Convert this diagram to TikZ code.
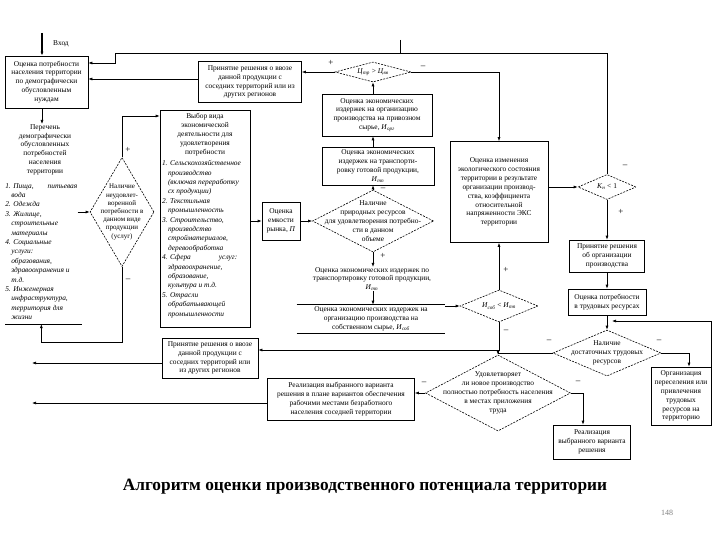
\documentclass[tikz,border=0pt]{standalone}
\usepackage{fontspec}
\setmainfont{Liberation Serif}
\usetikzlibrary{shapes.geometric,arrows.meta}
\newcommand{\boxfont}{\fontsize{7.4}{8.9}\selectfont}
\newcommand{\listfont}{\fontsize{7.4}{9.4}\selectfont}
\newcommand{\cost}[2]{\textit{#1}\textsubscript{\textit{#2}}}

\begin{document}
\begin{tikzpicture}[x=1pt,y=-1pt,line width=0.6pt,>={Latex[length=4pt,width=3pt]},
  box/.style={draw,align=center,font=\boxfont,inner sep=1pt},
  plain/.style={align=center,font=\boxfont,inner sep=0pt},
  items/.style={align=left,font=\listfont\itshape,inner sep=0pt},
  dia/.style={draw,diamond,dash pattern=on 2pt off 1.2pt,inner sep=0pt},
  sign/.style={font=\fontsize{9}{9}\selectfont,inner sep=0pt}]

\useasboundingbox (0,0) rectangle (720,540);

	% left column
	\node[box,minimum width=83,minimum height=52] (need) at (46.5,82) {Оценка потребности\\населения территории\\по демографически\\обусловленным\\нуждам};
	\node[plain] (listhead) [anchor=north] at (45,124) {Перечень\\демографически\\обусловленных\\потребностей\\населения\\территории};
	\node[items] (listbody) [anchor=north west] at (5,183) {1. Пища,\hspace{14pt}питьевая\\\hspace*{6pt}вода\\2. Одежда\\3. Жилище,\\\hspace*{6pt}строительные\\\hspace*{6pt}материалы\\4. Социальные\\\hspace*{6pt}услуги:\\\hspace*{6pt}образования,\\\hspace*{6pt}здравоохранения и\\\hspace*{6pt}т.д.\\5. Инженерная\\\hspace*{6pt}инфраструктура,\\\hspace*{6pt}территория для\\\hspace*{6pt}жизни};
	\coordinate (listend) at ([yshift=-4pt]listbody.south);
	\draw ([yshift=-4pt]listbody.south west) -- ([yshift=-4pt,xshift=4pt]listbody.south east);

	\node[dia,minimum width=64,minimum height=109] (G) at (122,212) {};
	\node[plain,font=\fontsize{7}{8.2}\selectfont] (Gtext) at (G.center) {Наличие\\неудовлет-\\воренной\\потребности в\\данном виде\\продукции\\(услуг)};

	\node[draw,minimum width=90,minimum height=217] (F) [anchor=north] at (205,110) {};
	\node[plain] (Fhead) [anchor=north] at ([yshift=-3pt]F.north) {Выбор вида\\экономической\\деятельности для\\удовлетворения\\потребности};
	\node[items] (Fbody) [anchor=north west] at ([xshift=2pt,yshift=-4pt]Fhead.south -| F.west) {1. Сельскохозяйственное\\\hspace*{6pt}производство\\\hspace*{6pt}(включая переработку\\\hspace*{6pt}сх продукции)\\2. Текстильная\\\hspace*{6pt}промышленность\\3. Строительство,\\\hspace*{6pt}производство\\\hspace*{6pt}стройматериалов,\\\hspace*{6pt}деревообработка\\4. Сфера\hspace{28pt}услуг:\\\hspace*{6pt}здравоохранение,\\\hspace*{6pt}образование,\\\hspace*{6pt}культура и т.д.\\5. Отрасли\\\hspace*{6pt}обрабатывающей\\\hspace*{6pt}промышленности};

	\node[box,minimum width=38,minimum height=38] (E) at (281,221) {Оценка\\емкости\\рынка, \textit{П}};
	\node[box,minimum width=103,minimum height=41] (imp1) at (250,82) {Принятие решения о ввозе\\данной продукции с\\соседних территорий или из\\других регионов};
	\node[box,minimum width=96,minimum height=40] (imp2) at (210,358) {Принятие решения о ввозе\\данной продукции с\\соседних территорий или\\из других регионов};

	% middle column
	\node[dia,minimum width=76,minimum height=20] (D1) at (373,72) {};
	\node[plain] (D1text) at (D1.center) {\cost{Ц}{тр} > \cost{Ц}{вв}};
	\node[box,minimum width=110,minimum height=42] (C1) at (377,115) {Оценка экономических\\издержек на организацию\\производства на привозном\\сырье, \cost{И}{орг}};
	\node[box,minimum width=112,minimum height=38] (C2) at (378,166) {Оценка экономических\\издержек на транспорти-\\ровку готовой продукции,\\\cost{И}{тп}};
	\node[dia,minimum width=121,minimum height=62] (D2) at (373,221) {};
	\node[plain] (D2text) at (D2.center) {Наличие\\природных ресурсов\\для удовлетворения потребно-\\сти в данном\\объеме};
	\node[plain] (C3) at (372,279) {Оценка экономических издержек по\\транспортировку готовой продукции,\\\cost{И}{тп}};
	\node[plain,minimum width=148,minimum height=28] (C4) at (371,319) {Оценка экономических издержек на\\организацию производства на\\собственном сырье, \cost{И}{соб}};
	\draw (C4.north west) -- (C4.north east);
	\draw (C4.south west) -- (C4.south east);

	% right part
	\node[box,minimum width=98,minimum height=101] (M) at (499,192) {Оценка изменения\\экологического состояния\\территории в результате\\организации производ-\\ства, коэффициента\\относительной\\напряженности ЭКС\\территории};
	\node[dia,minimum width=58,minimum height=25] (N) at (607,187) {};
	\node[plain] (Ntext) at (N.center) {\cost{К}{н} < 1};
	\node[dia,minimum width=78,minimum height=32] (K) at (499,306) {};
	\node[plain] (Ktext) at (K.center) {\cost{И}{соб} < \cost{И}{тп}};
	\node[box,minimum width=75,minimum height=32] (P) at (607,256) {Принятие решения\\об организации\\производства};
	\node[box,minimum width=78,minimum height=26] (Q) at (607,302) {Оценка потребности\\в трудовых ресурсах};
	\node[dia,minimum width=108,minimum height=46] (R) at (607,353) {};
	\node[plain] (Rtext) at (R.center) {Наличие\\достаточных трудовых\\ресурсов};
	\node[box,minimum width=60,minimum height=58] (S) at (681,396) {Организация\\переселения или\\привлечения\\трудовых\\ресурсов на\\территорию};
	\node[dia,minimum width=145,minimum height=76] (U) at (498,393) {};
	\node[plain] (Utext) at (U.center) {Удовлетворяет\\ли новое производство\\полностью потребность населения\\в местах приложения\\труда};
	\node[box,minimum width=77,minimum height=34] (T) at (592,442) {Реализация\\выбранного варианта\\решения};
	\node[box,minimum width=147,minimum height=42] (V) at (341,399) {Реализация выбранного варианта\\решения в плане вариантов обеспечения\\рабочими местами безработного\\населения соседней территории};

	% connectors
	\coordinate (in) at (42,33);
	\draw[->,line width=1.8pt] (in) -- (in |- need.north);
	\node[plain] (inlabel) at (61,44) {Вход};
	\draw[->] (need.south -| in) -- (listhead.north -| in);
	\coordinate (topL) at (115,53);
	\coordinate (tick) at (400,40);
	\draw (tick) -- (tick |- topL);
	\draw[->] (N.north) |- (topL) |- ([yshift=19pt]need.east);
	\draw[->] ([yshift=3pt]imp1.west) -- ([yshift=3pt]need.east);
	\draw[->] (listbody.east |- G.west) -- (G.west);
	\draw[->] (G.north) |- ([yshift=-6pt]F.north west);
	\draw[->] (G.south) -- ++(0,75) -| (listend);
	\draw[->] (F.east |- E.west) -- (E.west);
	\draw[->] (E.east) -- (D2.west);
	\draw[->] (D1.west) -- (D1.west -| imp1.east);
	\draw[->] (D1.east) -| (M.north);
	\draw[->] (C1.north -| D1.south) -- (D1.south);
	\draw[->] (C2.north -| D1.south) -- (C1.south -| D1.south);
	\draw[->] (D2.north) -- (C2.south -| D2.north);
	\draw[->] (D2.south) -- (C3.north -| D2.south);
	\draw[->] (C3.south -| D2.south) -- (C4.north -| D2.south);
	\draw[->] (C4.east |- K.west) -- (K.west);
	\draw[->] (K.north) -- (M.south);
	\draw[->] (K.south) |- ([yshift=8pt]imp2.east);
	\coordinate (outB) at (32,363);
	\coordinate (outV) at (32,403);
	\draw[->] ([yshift=-5pt]imp2.west) -- (outB);
	\draw[->] ([yshift=-4pt]V.west) -- (outV);
	\draw[->] (M.east |- N.west) -- (N.west);
	\draw[->] (N.south) -- (P.north);
	\draw[->] (P.south) -- (Q.north);
	\draw[->] (Q.south) -- (R.north);
	\coordinate (join) at (612,321);
	\draw[->] (S.north east) |- (join);
	\draw[->] (R.east) -| ([xshift=8pt]S.north);
	\draw[->] (R.west) -| (U.north);
	\draw[->] (U.west) -- (V.east |- U.west);
	\draw[->] (U.east) -| ([xshift=-9pt]T.north);

	% branch signs
	\node[sign] (sGp) at (128,150) {+};
	\node[sign] (sGm) at (128,280) {--};
	\node[sign] (sD1p) at (331,63) {+};
	\node[sign] (sD1m) at (423,67) {--};
	\node[sign] (sD2m) at (383,189) {--};
	\node[sign] (sD2p) at (383,256) {+};
	\node[sign] (sNm) at (625,166) {--};
	\node[sign] (sNp) at (621,212) {+};
	\node[sign] (sKp) at (506,270) {+};
	\node[sign] (sKm) at (506,331) {--};
	\node[sign] (sRl) at (549,341) {--};
	\node[sign] (sRr) at (659,341) {--};
	\node[sign] (sUl) at (424,383) {--};
	\node[sign] (sUr) at (578,382) {--};

	\node[font=\bfseries\fontsize{17.3}{20}\selectfont] (title) at (365,487) {Алгоритм оценки производственного потенциала территории};
	\node[font=\fontsize{8}{9}\selectfont,text=gray] (page) at (667,513) {148};

\end{tikzpicture}
\end{document}
